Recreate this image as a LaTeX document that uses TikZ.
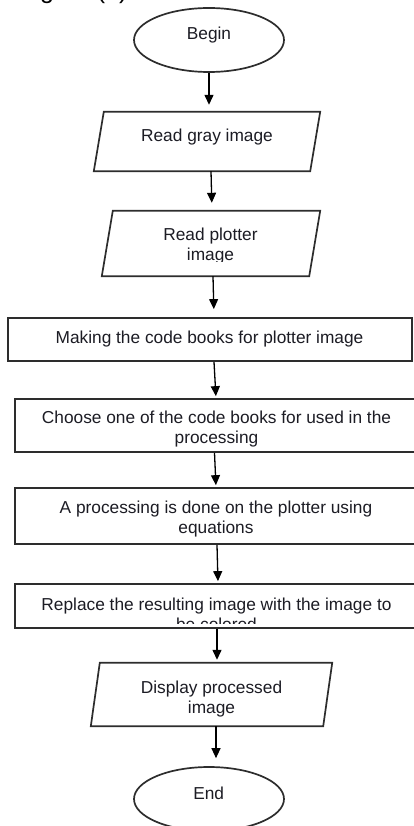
\documentclass[tikz,border=0pt]{standalone}
\usepackage{fontspec}
\setmainfont{Liberation Sans}
\usetikzlibrary{shapes.geometric,arrows.meta}
\definecolor{edgegray}{RGB}{45,45,45}
\definecolor{txt}{RGB}{28,28,36}
\tikzset{
  frame/.style={draw=edgegray,line width=1.7pt,line join=miter},
  shapeline/.style={frame,inner sep=0pt,fill=white},
  oval/.style={shapeline,ellipse,minimum width=150pt,minimum height=64pt},
  iobox/.style={rectangle,inner sep=0pt},
  procbox/.style={shapeline,rectangle},
  lbl/.style={anchor=base,align=center,text=txt,inner sep=0pt,font=\fontsize{17.3pt}{19.5pt}\selectfont},
  arr/.style={draw=black,line width=1.3pt,-{Triangle[length=10pt,width=9pt]}}
}
\begin{document}
\begin{tikzpicture}[x=1pt,y=-1pt]
\useasboundingbox (0,0) rectangle (414,826);
\clip (0,0) rectangle (414,826);
\fill[white] (0,0) rectangle (414,826);
% partially visible caption at the top
\node[anchor=base west,inner sep=0pt,font=\fontsize{25pt}{30pt}\selectfont] (cap) at (19,-1.5) {Figure (4)};
% shapes
\node[oval] (begin) at (209,40) {};
\node[iobox,minimum width=226pt,minimum height=59pt] (gray) at (207,141.5) {};
\draw[frame] ([xshift=10pt]gray.north west) -- (gray.north east) -- ([xshift=-10pt]gray.south east) -- (gray.south west) -- cycle;
\node[iobox,minimum width=218pt,minimum height=65pt] (plot) at (211,243.5) {};
\draw[frame] ([xshift=11pt]plot.north west) -- (plot.north east) -- ([xshift=-11pt]plot.south east) -- (plot.south west) -- cycle;
\node[procbox,minimum width=404pt,minimum height=43pt] (make) at (210,339.5) {};
\node[procbox,minimum width=403pt,minimum height=53pt] (choose) at (216.5,425.5) {};
\node[procbox,minimum width=403pt,minimum height=56pt] (proc) at (216.5,516) {};
\node[procbox,minimum width=403pt,minimum height=44pt] (repl) at (216.5,606) {};
\node[iobox,minimum width=241pt,minimum height=63pt] (disp) at (211.5,694.5) {};
\draw[frame] ([xshift=9pt]disp.north west) -- (disp.north east) -- ([xshift=-9pt]disp.south east) -- (disp.south west) -- cycle;
\node[oval] (end) at (209,799) {};
% labels (anchor=base sits on the last line's baseline)
\node[lbl] (beginT) at (209,40) {Begin};
\node[lbl] (grayT) at (207,141.5) {Read gray image};
\begin{scope}
\clip (0,0) rectangle (414,261);
\node[lbl] (plotT) at (210.5,260) {Read plotter\\image};
\end{scope}
\node[lbl] (makeT) at (209.5,343) {Making the code books for plotter image};
\node[lbl] (chooseT) at (216.5,443) {Choose one of the code books for used in the\\processing};
\node[lbl] (procT) at (216,533) {A processing is done on the plotter using\\equations};
\begin{scope}
\clip (0,0) rectangle (414,623.5);
\node[lbl] (replT) at (216.5,630) {Replace the resulting image with the image to\\be colored};
\end{scope}
\node[lbl] (dispT) at (211.5,713) {Display processed\\image};
\node[lbl] (endT) at (208.7,799) {End};
% connectors
\draw[arr,shorten >=7pt] (begin.south) -- (begin.south |- gray.north);
\draw[arr,shorten >=8pt] ([xshift=4pt]gray.south) -- ([xshift=5pt]gray.south |- plot.north);
\draw[arr,shorten >=8pt] ([xshift=2pt]plot.south) -- ([xshift=3pt]plot.south |- make.north);
\draw[arr,shorten >=2pt] ([xshift=4pt]make.south) -- ([xshift=6pt]make.south |- choose.north);
\draw[arr,shorten >=2pt] ([xshift=-2pt]choose.south) -- ([xshift=-0.5pt]choose.south |- proc.north);
\draw[arr,shorten >=2pt] ([xshift=0.5pt]proc.south) -- ([xshift=1.5pt]proc.south |- repl.north);
\draw[arr,shorten >=3pt] ([xshift=0.5pt]repl.south) -- ([xshift=0.5pt]repl.south |- disp.north);
\draw[arr,shorten >=8pt] ([xshift=4.5pt]disp.south) -- ([xshift=4.5pt]disp.south |- end.north);
\end{tikzpicture}
\end{document}
